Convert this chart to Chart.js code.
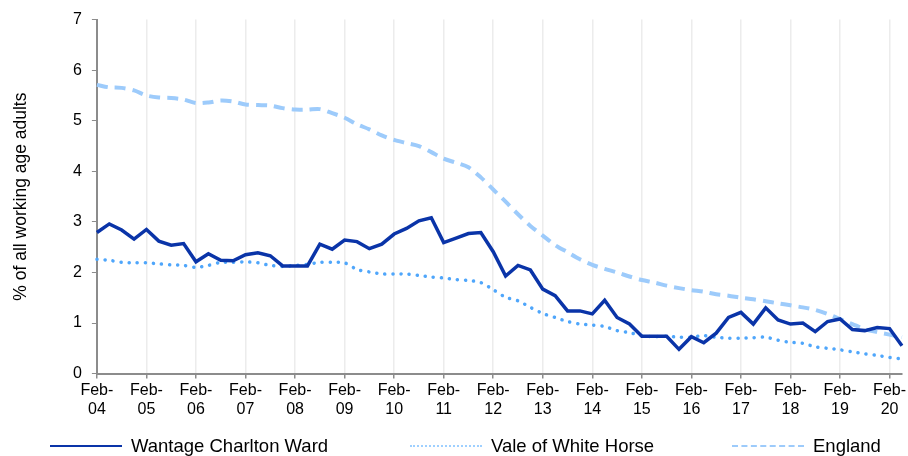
<!DOCTYPE html>
<html>
<head>
<meta charset="utf-8">
<script src="https://cdn.jsdelivr.net/npm/chart.js@4.4.1/dist/chart.umd.min.js"></script>
<style>
  html, body { margin: 0; padding: 0; background: #fff; }
  #wrap { position: relative; width: 908px; height: 456px; }
  .legend { position: absolute; left: 0; top: 435px; width: 908px; height: 22px;
            font-family: 'Liberation Sans', Arial, sans-serif; font-size: 18.5px; color: #000; }
  .legend .item { position: absolute; top: 0; display: flex; align-items: center; height: 22px; }
  .legend .sample { display: inline-block; width: 72px; height: 0; margin-right: 9px; }
</style>
</head>
<body>
<div id="wrap">
  <canvas id="claimant-chart"></canvas>
  <div class="legend" id="legend"></div>
</div>
<script>
const months = ['Feb', 'May', 'Aug', 'Nov'];
const years = ['04', '05', '06', '07', '08', '09', '10', '11', '12', '13', '14', '15', '16', '17', '18', '19', '20'];

// quarterly, Feb-04 to May-20
const quarters = [];
years.forEach(y => months.forEach(m => quarters.push(m + '-' + y)));
quarters.splice(66);

const wantage = [
    2.79, 2.96, 2.84, 2.66, 2.85, 2.62, 2.54, 2.57, 2.21, 2.37, 2.24, 2.23, 2.35, 2.39, 2.33, 2.13,
    2.13, 2.13, 2.56, 2.46, 2.64, 2.61, 2.47, 2.56, 2.76, 2.87, 3.02, 3.08, 2.59, 2.68, 2.77, 2.79,
    2.41, 1.93, 2.14, 2.05, 1.67, 1.54, 1.24, 1.24, 1.18, 1.45, 1.11, 0.98, 0.74, 0.74, 0.74, 0.48,
    0.73, 0.61, 0.80, 1.11, 1.21, 0.98, 1.30, 1.06, 0.98, 1.00, 0.83, 1.03, 1.08, 0.87, 0.85, 0.91,
    0.89, 0.55
];
const vale = [
    2.26, 2.24, 2.20, 2.19, 2.19, 2.17, 2.15, 2.14, 2.10, 2.14, 2.20, 2.20, 2.21, 2.19, 2.14, 2.12,
    2.14, 2.16, 2.20, 2.20, 2.19, 2.06, 2.01, 1.97, 1.97, 1.97, 1.94, 1.91, 1.89, 1.86, 1.84, 1.80,
    1.66, 1.51, 1.44, 1.31, 1.19, 1.11, 1.03, 0.98, 0.96, 0.93, 0.85, 0.81, 0.75, 0.73, 0.74, 0.72,
    0.72, 0.75, 0.72, 0.70, 0.70, 0.71, 0.72, 0.66, 0.62, 0.60, 0.53, 0.50, 0.47, 0.43, 0.39, 0.36,
    0.32, 0.29
];
const england = [
    5.71, 5.66, 5.65, 5.60, 5.50, 5.46, 5.45, 5.42, 5.35, 5.36, 5.40, 5.38, 5.32, 5.31, 5.30, 5.25,
    5.22, 5.22, 5.23, 5.15, 5.06, 4.93, 4.83, 4.71, 4.62, 4.56, 4.50, 4.38, 4.25, 4.17, 4.08, 3.88,
    3.64, 3.40, 3.15, 2.92, 2.73, 2.54, 2.40, 2.26, 2.15, 2.07, 2.00, 1.92, 1.85, 1.80, 1.74, 1.69,
    1.65, 1.62, 1.57, 1.54, 1.50, 1.47, 1.43, 1.39, 1.35, 1.31, 1.26, 1.18, 1.08, 0.98, 0.88, 0.82,
    0.77, 0.72
];
const yTicks = [0, 1, 2, 3, 4, 5, 6, 7];

const ctx = document.getElementById('claimant-chart');
const font = { family: "'Liberation Sans', Arial, sans-serif", size: 16 };

const chart = new Chart(ctx, {
    type: 'line',
    data: {
        labels: quarters,
        datasets: [{
            label: 'Wantage Charlton Ward',
            data: wantage,
            borderColor: '#0a34a8',
            borderWidth: 3.5,
            pointRadius: 0,
            tension: 0
        }, {
            label: 'Vale of White Horse',
            data: vale,
            borderColor: '#4fa6fb',
            borderWidth: 3.5,
            borderDash: [0.1, 8],
            borderCapStyle: 'round',
            pointRadius: 0,
            tension: 0.3
        }, {
            label: 'England',
            data: england,
            borderColor: '#9dcbfb',
            borderWidth: 4,
            borderDash: [11, 7],
            pointRadius: 0,
            tension: 0.3
        }]
    },
    options: {
        responsive: true,
        maintainAspectRatio: false,
        animation: false,
        layout: { padding: { top: 10, right: -3, left: 11, bottom: 35 } },
        plugins: {
            tooltip: { enabled: false },
            legend: { display: false }
        },
        scales: {
            x: {
                ticks: {
                    color: '#000',
                    font: font,
                    autoSkip: false,
                    maxRotation: 0,
                    padding: 2,
                    callback: function (value, index) {
                        if (index % 4 !== 0) return null;
                        const parts = this.getLabelForValue(value).split('-');
                        return [parts[0] + '-', parts[1]];
                    }
                },
                grid: {
                    color: '#ececec',
                    lineWidth: 1.5,
                    tickColor: '#8c8c8c',
                    tickLength: 5
                },
                border: { color: '#8c8c8c', width: 2 }
            },
            y: {
                min: 0,
                max: 7,
                afterBuildTicks: axis => { axis.ticks = yTicks.map(v => ({ value: v })); },
                ticks: { color: '#000', font: font, padding: 10 },
                grid: {
                    drawOnChartArea: false,
                    tickColor: '#8c8c8c',
                    tickLength: 5
                },
                border: { color: '#8c8c8c', width: 2 },
                title: {
                    display: true,
                    text: '% of all working age adults',
                    color: '#000',
                    font: { family: font.family, size: 17.5 },
                    padding: { top: 0, bottom: 31 }
                }
            }
        }
    }
});

// legend as html, line samples follow the dataset styles
const legendPos = [50, 410, 732];
const sampleBorder = ['2px solid #0a34a8', '2px dotted #9fd0ff', '2px dashed #9dcbfb'];
const legendEl = document.getElementById('legend');
chart.data.datasets.forEach((ds, i) => {
    const item = document.createElement('div');
    item.className = 'item';
    item.style.left = legendPos[i] + 'px';
    const sample = document.createElement('span');
    sample.className = 'sample';
    sample.style.borderTop = sampleBorder[i];
    item.appendChild(sample);
    item.appendChild(document.createTextNode(ds.label));
    legendEl.appendChild(item);
});
</script>
</body>
</html>
